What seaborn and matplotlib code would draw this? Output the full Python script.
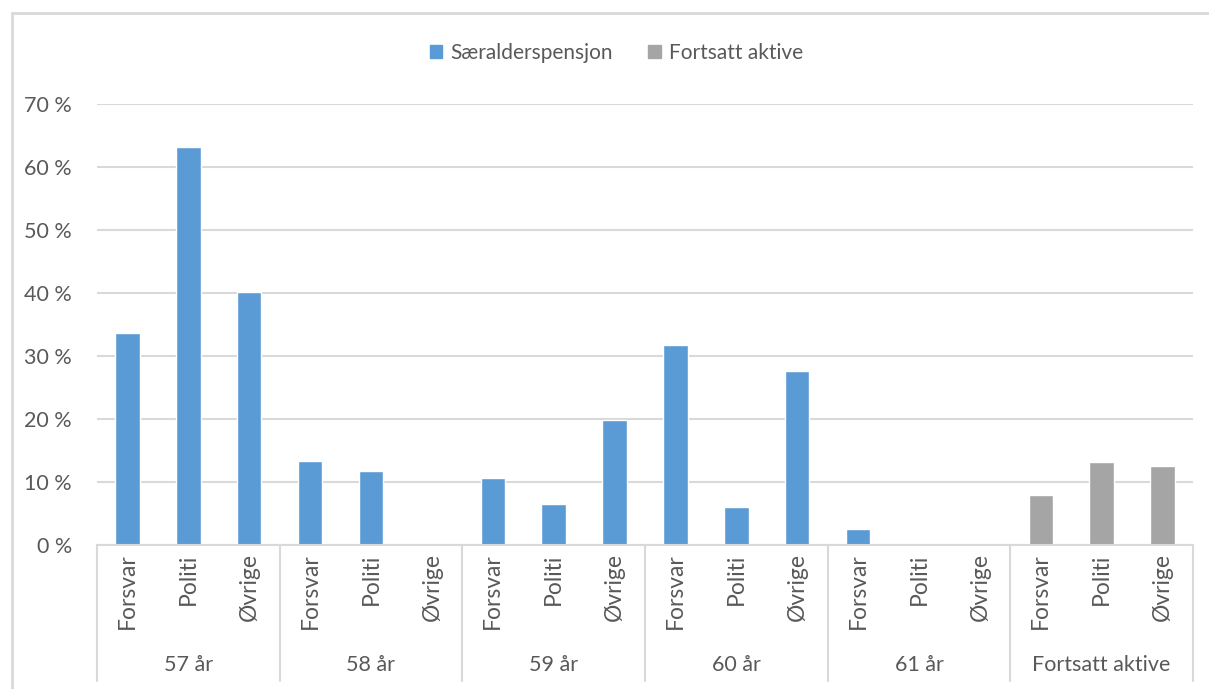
import pandas as pd
import matplotlib.pyplot as plt
import matplotlib.transforms as mtransforms
from matplotlib.patches import Rectangle
import seaborn as sns

# Data
groups = ["57 år", "58 år", "59 år", "60 år", "61 år", "Fortsatt aktive"]
subs = ["Forsvar", "Politi", "Øvrige"]
series = ["Særalderspensjon"] * 15 + ["Fortsatt aktive"] * 3
values = [
    0.336, 0.631, 0.401,
    0.134, 0.117, 0.0,
    0.107, 0.065, 0.199,
    0.318, 0.060, 0.276,
    0.025, 0.0, 0.0,
    0.080, 0.131, 0.125,
]
colors = {"Særalderspensjon": "#5B9BD5", "Fortsatt aktive": "#A5A5A5"}

keys = [f"{g}|{s}" for g in groups for s in subs]
df = pd.DataFrame({"key": keys, "value": values, "series": series})

sns.set_style("white")
plt.rcParams["font.family"] = ["Lato", "DejaVu Sans"]
text_col = "#595959"
grid_col = "#D9D9D9"
fs = 15.5

fig = plt.figure(figsize=(12.09, 6.89), dpi=100)
ax = fig.add_axes([97 / 1209, 1 - 545 / 689, 1096 / 1209, 441 / 689])

sns.barplot(data=df, x="key", y="value", hue="series", order=keys,
            hue_order=["Særalderspensjon", "Fortsatt aktive"],
            palette=colors, dodge=False, width=0.4, saturation=1,
            legend=False, ax=ax)

ax.set_xlim(-0.5, len(keys) - 0.5)
ax.set_ylim(0, 0.7)
ax.set_yticks([i / 10 for i in range(8)])
ax.set_yticklabels([f"{i * 10} %" for i in range(8)], color=text_col, fontsize=fs)
ax.yaxis.grid(True, color=grid_col, linewidth=1.5)
ax.set_axisbelow(True)
ax.tick_params(axis="y", length=0, pad=18)

for side in ["left", "right", "top"]:
    ax.spines[side].set_visible(False)
ax.spines["bottom"].set_color(grid_col)
ax.spines["bottom"].set_linewidth(1.5)

ax.set_xticks(range(len(keys)))
ax.set_xticklabels(subs * len(groups), rotation=90, color=text_col, fontsize=fs + 1)
ax.tick_params(axis="x", length=0, pad=6)
ax.set_xlabel("")
ax.set_ylabel("")

# group separators and group labels below the axis
trans = mtransforms.blended_transform_factory(ax.transData, ax.transAxes)
sep_bottom = -(681 - 545) / 441
for i in range(len(groups) + 1):
    x = i * 3 - 0.5
    ax.plot([x, x], [0, sep_bottom], transform=trans, color=grid_col,
            linewidth=1.5, clip_on=False)
for i, g in enumerate(groups):
    ax.text(i * 3 + 1, -(665 - 545) / 441, g, transform=trans, ha="center",
            va="center", color=text_col, fontsize=fs)

# legend
handles = [Rectangle((0, 0), 1, 1, color=colors[s]) for s in colors]
fig.legend(handles, list(colors), loc="center", bbox_to_anchor=(0.51, 1 - 53 / 689),
           ncol=2, frameon=False, fontsize=15, handlelength=0.6, handleheight=0.6,
           handletextpad=0.4, columnspacing=1.7, labelcolor=text_col)

# chart border
fig.patches.append(Rectangle((12 / 1209, -0.1), 1.2, 1 - 13 / 689 + 0.1,
                             transform=fig.transFigure, fill=False,
                             edgecolor=grid_col, linewidth=2))

fig.savefig("out.png", dpi=100)
